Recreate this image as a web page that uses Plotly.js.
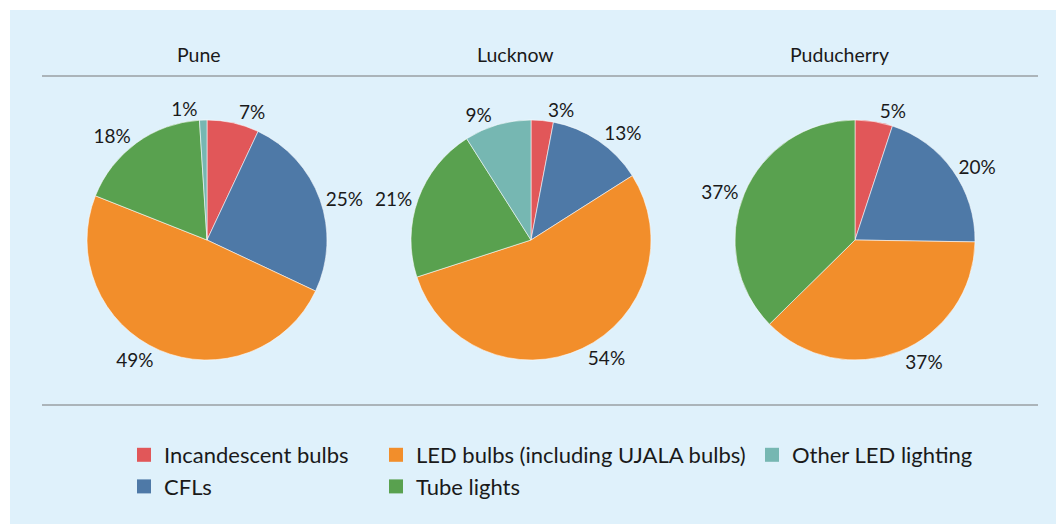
<!DOCTYPE html>
<html>
<head>
<meta charset="utf-8">
<script src="https://cdn.plot.ly/plotly-3.0.1.min.js"></script>
<style>
  html, body { margin: 0; padding: 0; background: #ffffff; }
  #chart { width: 1056px; height: 524px; }
</style>
</head>
<body>
<div id="chart"></div>
<script>
// ---- Data ----
const categories = ['Incandescent bulbs', 'CFLs', 'LED bulbs (including UJALA bulbs)', 'Tube lights', 'Other LED lighting'];
const colors = ['#e15759', '#4e79a7', '#f28e2b', '#59a14f', '#76b7b2'];
const cities = ['Pune', 'Lucknow', 'Puducherry'];
const pune = [7, 25, 49, 18, 1];
const lucknow = [3, 13, 54, 21, 9];
const puducherry = [5, 20, 37, 37, 0];
const cityValues = [pune, lucknow, puducherry];

// ---- Layout helpers ----
const W = 1056, H = 524;
const pieCenters = [207, 531, 855];
const pieCy = 240, pieR = 120;
const titleX = [199, 515, 839];
const legendOf = ['legend', 'legend', 'legend2', 'legend2', 'legend3'];
const FONT = 'Lato, "Open Sans", sans-serif';

const traces = [];
cities.forEach((city, i) => {
  const vals = cityValues[i];
  const labs = [], v = [], cols = [];
  vals.forEach((val, k) => { if (val > 0) { labs.push(categories[k]); v.push(val); cols.push(colors[k]); } });
  traces.push({
    type: 'pie',
    name: city,
    labels: labs,
    values: v,
    sort: false,
    direction: 'clockwise',
    rotation: 0,
    marker: { colors: cols, line: { color: 'rgba(255,255,255,0.55)', width: 1 } },
    textposition: 'outside',
    texttemplate: '%{value}%',
    textfont: { family: FONT, size: 19, color: '#1a1a1a' },
    outsidetextfont: { family: FONT, size: 19, color: '#1a1a1a' },
    automargin: false,
    showlegend: false,
    hoverinfo: 'skip',
    domain: {
      x: [(pieCenters[i] - pieR) / W, (pieCenters[i] + pieR) / W],
      y: [1 - (pieCy + pieR) / H, 1 - (pieCy - pieR) / H]
    }
  });
});

// legend-only entries
categories.forEach((c, k) => {
  traces.push({
    type: 'scatter',
    mode: 'markers',
    x: [null], y: [null],
    name: c,
    marker: { symbol: 'square', size: 14, color: colors[k] },
    legend: legendOf[k],
    legendgroup: 'g' + k,
    showlegend: true,
    hoverinfo: 'skip'
  });
});

const legendBase = {
  orientation: 'v',
  bgcolor: 'rgba(0,0,0,0)',
  borderwidth: 0,
  font: { family: FONT, size: 22, color: '#1a1a1a' },
  xanchor: 'left',
  yanchor: 'top',
  y: 1 - 434 / H,
  tracegroupgap: 0,
  itemclick: false,
  itemdoubleclick: false
};

const annotations = cities.map((c, i) => ({
  text: c,
  x: titleX[i] / W, y: 1 - 54 / H,
  xref: 'paper', yref: 'paper',
  xanchor: 'center', yanchor: 'middle',
  showarrow: false,
  font: { family: FONT, size: 19.5, color: '#1a1a1a' }
}));

const lineColor = '#9a9fa3';
const shapes = [
  { type: 'rect', xref: 'paper', yref: 'paper', x0: 0, x1: 10 / W, y0: 0, y1: 1, fillcolor: '#ffffff', line: { width: 0 }, layer: 'below' },
  { type: 'rect', xref: 'paper', yref: 'paper', x0: 0, x1: 1, y0: 1 - 10 / H, y1: 1, fillcolor: '#ffffff', line: { width: 0 }, layer: 'below' },
  { type: 'line', xref: 'paper', yref: 'paper', x0: 42 / W, x1: 1038 / W, y0: 1 - 76 / H, y1: 1 - 76 / H, line: { color: lineColor, width: 1.5 } },
  { type: 'line', xref: 'paper', yref: 'paper', x0: 42 / W, x1: 1038 / W, y0: 1 - 405 / H, y1: 1 - 405 / H, line: { color: lineColor, width: 1.5 } }
];

const layout = {
  width: W, height: H,
  margin: { l: 0, r: 0, t: 0, b: 0 },
  paper_bgcolor: '#dff1fb',
  plot_bgcolor: 'rgba(0,0,0,0)',
  font: { family: FONT },
  xaxis: { visible: false, range: [0, 1] },
  yaxis: { visible: false, range: [0, 1] },
  showlegend: true,
  legend: Object.assign({}, legendBase, { x: 124 / W }),
  legend2: Object.assign({}, legendBase, { x: 376 / W }),
  legend3: Object.assign({}, legendBase, { x: 752 / W }),
  annotations: annotations,
  shapes: shapes
};

Plotly.newPlot('chart', traces, layout, { staticPlot: true, displayModeBar: false });
</script>
</body>
</html>
